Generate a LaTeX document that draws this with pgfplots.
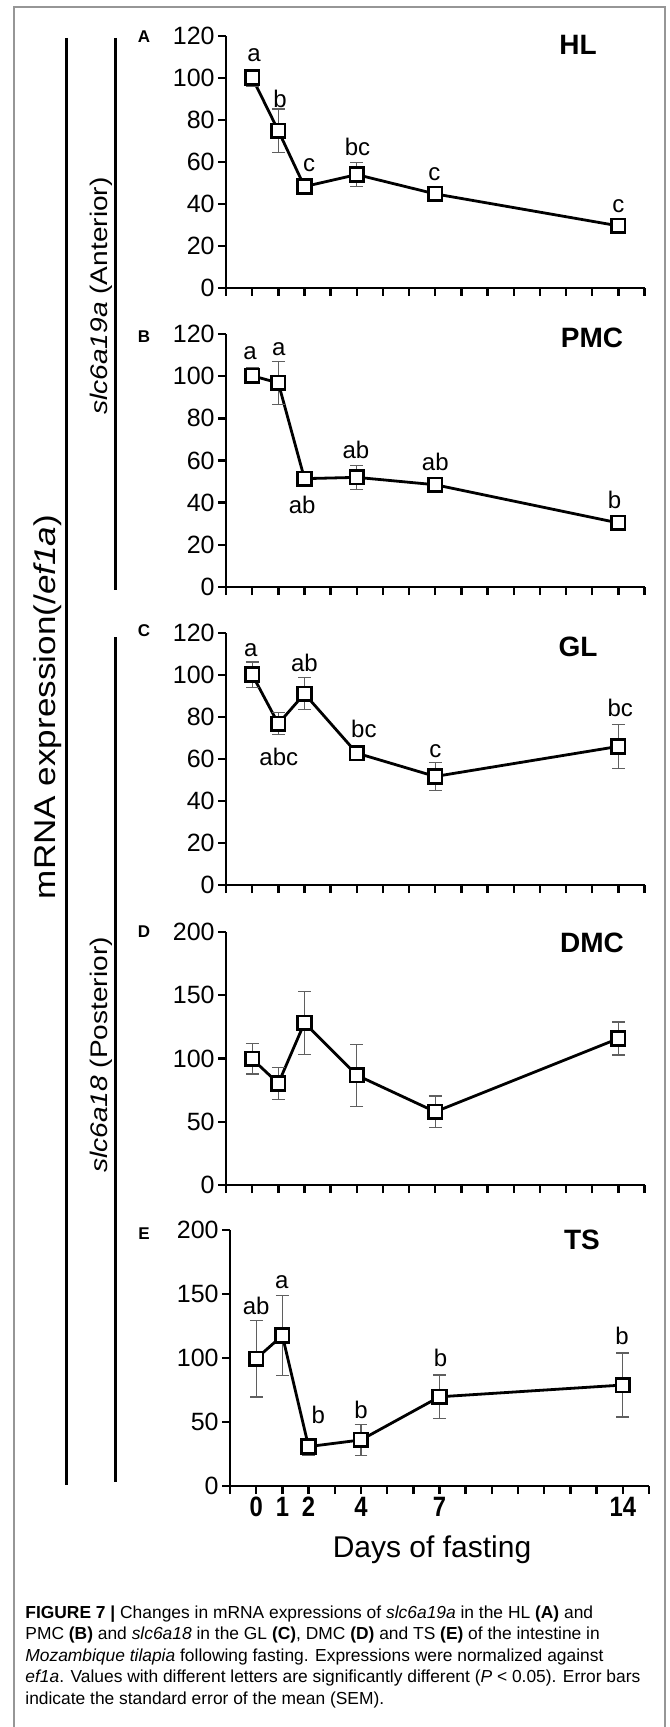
\documentclass[border=0pt]{standalone}
\usepackage{fontspec}
\setmainfont{Liberation Sans}
\usepackage{graphicx}
\usepackage{pgfplots}
\usepackage{pgfplotstable}
\pgfplotsset{compat=1.18}

\definecolor{errgray}{RGB}{95,95,95}
\definecolor{framegray}{RGB}{150,150,150}

% day, mean, SEM
\pgfplotstableread{
d v e
0 100.2 4
1 74.9 10.3
2 48.3 1.5
4 54 5.6
7 44.8 1.5
14 29.6 1.5
}\hl
\pgfplotstableread{
d v e
0 100.2 3.7
1 96.8 10.2
2 51.4 1.5
4 52 5.7
7 48.5 1.5
14 30.4 1.5
}\pmc
\pgfplotstableread{
d v e
0 100.2 6
1 76.8 5.2
2 91.1 7.7
4 62.8 2
7 51.7 6.7
14 66 10.5
}\gl
\pgfplotstableread{
d v e
0 99.7 12
1 80.3 12.5
2 128.2 25
4 86.8 24.5
7 57.9 12.4
14 115.8 13
}\dmc
\pgfplotstableread{
d v e
0 99.5 30
1 117.6 31
2 30.8 6.5
4 36 12
7 69.7 17
14 78.9 25
}\ts

\pgfplotsset{
  panel/.style={
    scale only axis, width=209.25pt, height=126pt,
    anchor=south west,
    axis lines=left, axis line style={-, line width=1.25pt},
    xmin=-1, xmax=15, ymin=0,
    xtick={0,1,2,4,7,14},
    minor xtick={-1,3,5,6,8,9,10,11,12,13,15},
    xticklabels={,,,,,},
    tick align=outside, major tick length=4pt, minor tick length=4pt,
    tick style={black, line width=1.2pt},
    yticklabel style={font=\fontsize{12.5}{12.5}\selectfont, inner sep=1.5pt},
    /pgf/number format/assume math mode=true,
    clip=false,
  },
  series/.style={black, line width=1.4pt, mark=square*, mark size=3.4pt,
    mark options={fill=white, line width=1.3pt, draw=black},
    error bars/y dir=both, error bars/y explicit,
    error bars/error bar style={errgray, line width=0.6pt},
    error bars/error mark options={rotate=90, mark size=3.2pt, errgray, line width=0.6pt}},
}
\tikzset{
  lett/.style={font=\fontsize{12}{12}\selectfont, inner sep=0pt},
  ttl/.style={font=\bfseries\fontsize{14}{14}\selectfont, inner sep=0pt},
  plab/.style={font=\bfseries\fontsize{8.5}{8.5}\selectfont, inner sep=0pt},
}
\newcommand{\nb}[1]{\scalebox{0.85}[1]{#1}}

\begin{document}
\begin{tikzpicture}[x=0.5pt,y=-0.5pt]
\path[use as bounding box] (0,0) rectangle (669,1727);
\draw[framegray, line width=0.6pt] (14,1727) -- (14,7) -- (665,7) -- (665,1727);

% A
\begin{axis}[panel, at={(113pt,-144pt)}, ymax=120, ytick={0,20,...,120}]
\addplot[series] table[x=d, y=v, y error=e] {\hl};
\node[lett] at (axis cs:0.07,111) {a};
\node[lett] at (axis cs:1.07,90) {b};
\node[lett] at (axis cs:2.18,58.6) {c};
\node[lett] at (axis cs:4.03,67.3) {bc};
\node[lett] at (axis cs:6.97,54) {c};
\node[lett] at (axis cs:14,39) {c};
\end{axis}

% B
\begin{axis}[panel, at={(113pt,-293.5pt)}, height=126.5pt, ymax=120, ytick={0,20,...,120}]
\addplot[series] table[x=d, y=v, y error=e] {\pmc};
\node[lett] at (axis cs:-0.08,111) {a};
\node[lett] at (axis cs:1.02,112.7) {a};
\node[lett] at (axis cs:1.91,39) {ab};
\node[lett] at (axis cs:3.97,64.8) {ab};
\node[lett] at (axis cs:7,59.3) {ab};
\node[lett] at (axis cs:13.85,41.4) {b};
\end{axis}

% C
\begin{axis}[panel, at={(113pt,-442.5pt)}, ymax=120, ytick={0,20,...,120}]
\addplot[series] table[x=d, y=v, y error=e] {\gl};
\node[lett] at (axis cs:-0.05,111.6) {a};
\node[lett] at (axis cs:1.02,61.2) {abc};
\node[lett] at (axis cs:2,105.7) {ab};
\node[lett] at (axis cs:4.27,74.4) {bc};
\node[lett] at (axis cs:7,63.9) {c};
\node[lett] at (axis cs:14.07,84.3) {bc};
\end{axis}

% D
\begin{axis}[panel, at={(113pt,-592.5pt)}, height=126.5pt, ymax=200, ytick={0,50,...,200}]
\addplot[series] table[x=d, y=v, y error=e] {\dmc};
\end{axis}

% E
\begin{axis}[panel, at={(115pt,-743pt)}, width=209.5pt, height=128pt, ymax=200, ytick={0,50,...,200},
  xticklabels={\nb{0},\nb{1},\nb{2},\nb{4},\nb{7},\nb{14}},
  xticklabel style={font=\bfseries\fontsize{14}{14}\selectfont, inner sep=1.5pt}]
\addplot[series] table[x=d, y=v, y error=e] {\ts};
\node[lett] at (axis cs:0,140.8) {ab};
\node[lett] at (axis cs:0.98,159.2) {a};
\node[lett] at (axis cs:2.37,55.3) {b};
\node[lett] at (axis cs:4,59.2) {b};
\node[lett] at (axis cs:7.04,100) {b};
\node[lett] at (axis cs:13.97,117) {b};
\end{axis}

% panel titles and letters
\node[ttl] at (578,45) {HL};
\node[ttl] at (592,338) {PMC};
\node[ttl] at (578,647) {GL};
\node[ttl] at (592,943) {DMC};
\node[ttl] at (582,1240) {TS};
\node[plab] at (144,37) {A};
\node[plab] at (144,337) {B};
\node[plab] at (144,631) {C};
\node[plab] at (144,932) {D};
\node[plab] at (144,1234) {E};

\node[font=\fontsize{15}{15}\selectfont, inner sep=0pt] at (432,1550) {Days of fasting};

% left brackets and labels
\draw[line width=1.5pt] (66,38) -- (66,1485);
\draw[line width=1.5pt] (115,38) -- (115,590);
\draw[line width=1.5pt] (115,637) -- (115,1482);
\node[rotate=90, inner sep=0pt] at (101,296) {\scalebox{1.17}[1]{\fontsize{12}{12}\selectfont\textit{slc6a19a} (Anterior)}};
\node[rotate=90, inner sep=0pt] at (101,1055) {\scalebox{1.17}[1]{\fontsize{12}{12}\selectfont\textit{slc6a18} (Posterior)}};
\node[rotate=90, inner sep=0pt] at (48,707) {\scalebox{1.17}[1]{\fontsize{15}{15}\selectfont mRNA expression(/\textit{ef1a})}};

% caption
\node[anchor=base west, inner sep=0pt] at (25,1618) {\parbox[t]{330pt}{\fontsize{8.7}{10.75}\selectfont\raggedright
\textbf{FIGURE 7 |} Changes in mRNA expressions of \textit{slc6a19a} in the HL \textbf{(A)} and\\
PMC \textbf{(B)} and \textit{slc6a18} in the GL \textbf{(C)}, DMC \textbf{(D)} and TS \textbf{(E)} of the intestine in\\
\textit{Mozambique tilapia} following fasting. Expressions were normalized against\\
\textit{ef1a}. Values with different letters are significantly different (\textit{P} < 0.05). Error bars\\
indicate the standard error of the mean (SEM).}};
\end{tikzpicture}
\end{document}
